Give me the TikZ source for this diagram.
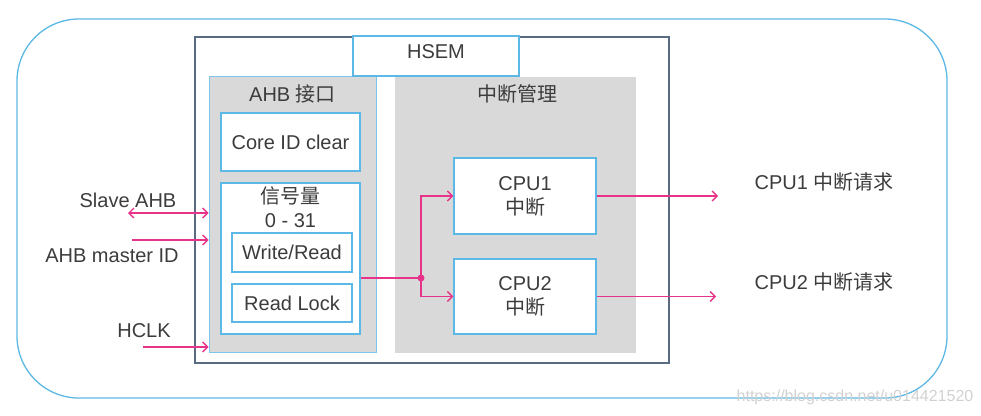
\documentclass[tikz,border=0pt]{standalone}
\usepackage{fontspec}
\setmainfont{Liberation Sans}
\newfontfamily\cjk{Noto Sans CJK SC}
\usetikzlibrary{arrows.meta}
\definecolor{lblue}{HTML}{5CB8E4}
\definecolor{pinkc}{HTML}{E8338A}
\definecolor{frame}{HTML}{5A6A82}
\definecolor{gfill}{HTML}{D9D9D9}
\definecolor{txt}{HTML}{3C3C3C}
\tikzset{
  every node/.style={text=txt, font=\fontsize{20}{24}\selectfont, inner sep=0pt, align=center},
  wbox/.style={draw=lblue, line width=1.5pt, fill=white},
  gbox/.style={fill=gfill},
  sig/.style={draw=pinkc, line width=1.3pt},
  sigarrow/.style={sig, -{Straight Barb[length=5pt,width=10pt]}},
  sigboth/.style={sig, {Straight Barb[length=5pt,width=10pt]}-{Straight Barb[length=5pt,width=10pt]}}
}
\begin{document}
\begin{tikzpicture}[x=1pt,y=-1pt]
\useasboundingbox (0,0) rectangle (981,415);
% outer rounded frame
\node[draw=lblue, line width=1.3pt, rounded corners=62pt, minimum width=930pt, minimum height=379pt] (outer) at (482,208.5) {};
% HSEM frame
\node[draw=frame, line width=1.5pt, minimum width=474pt, minimum height=326pt] (hsem) at (432,200) {};
% gray areas
\node[gbox, draw=lblue!80, line width=0.9pt, minimum width=167pt, minimum height=276pt] (ahb) at (292.5,214) {};
\node[gbox, minimum width=241pt, minimum height=276pt] (irq) at (515.5,215) {};
% HSEM label box
\node[wbox, minimum width=166pt, minimum height=40pt] (hlabel) at (436,56) {};
\node (htext) at (436,52) {HSEM};
% labels of areas
\node (ahbt) at (292.5,94) {AHB {\cjk 接口}};
\node (irqt) at (517,94) {\cjk 中断管理};
% AHB content
\node[wbox, minimum width=139pt, minimum height=58pt] (core) at (290.5,142) {Core ID clear};
\node[wbox, minimum width=139pt, minimum height=151pt] (sem) at (290.5,258.5) {};
\node (semt) at (290.5,207) {{\cjk 信号量}\\[0pt]0 - 31};
\node[wbox, minimum width=120pt, minimum height=39pt] (wr) at (292,252.5) {Write/Read};
\node[wbox, minimum width=120pt, minimum height=38pt] (rl) at (292,303) {Read Lock};
% CPU boxes
\node[wbox, minimum width=142pt, minimum height=76pt] (cpu1) at (525,196) {CPU1\\{\cjk 中断}};
\node[wbox, minimum width=142pt, minimum height=75pt] (cpu2) at (525,296.5) {CPU2\\{\cjk 中断}};
% internal connections
\coordinate (j) at (421,278);
\draw[sig] (sem.east |- j) -- (j);
\fill[pinkc] (j) circle (3.5pt);
\draw[sigarrow] (j) -- (j |- cpu1.west) -- (cpu1.west);
\draw[sigarrow] (j) -- (j |- cpu2.west) -- (cpu2.west);
% outputs
\coordinate (o1) at (718,196);
\coordinate (o2) at (716,296.5);
\draw[sigarrow] (cpu1.east) -- (o1);
\draw[sigarrow] (cpu2.east) -- (o2);
\node (r1) at (824,182) {CPU1 {\cjk 中断请求}};
\node (r2) at (824,282) {CPU2 {\cjk 中断请求}};
% inputs
\coordinate (s1) at (128,213);
\coordinate (s2) at (132,240);
\coordinate (s3) at (143,347);
\draw[sigboth] (s1) -- (ahb.west |- s1);
\draw[sigarrow] (s2) -- (ahb.west |- s2);
\draw[sigarrow] (s3) -- (ahb.west |- s3);
\node (l1) at (128,200) {Slave AHB};
\node (l2) at (112,256) {AHB master ID};
\node (l3) at (144,331) {HCLK};
% watermark
\node[text=black!18, font=\fontsize{16}{18}\selectfont] (wm) at (855,397) {https://blog.csdn.net/u014421520};
\end{tikzpicture}
\end{document}
